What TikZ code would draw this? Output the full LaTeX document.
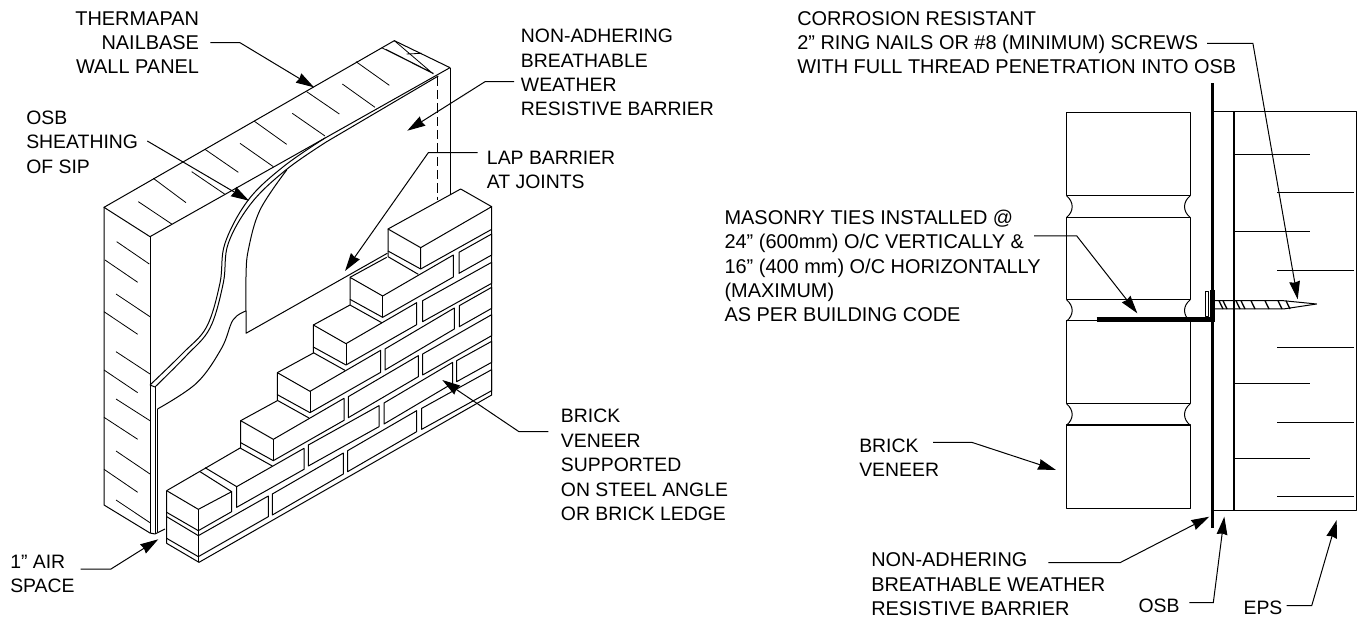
\documentclass[tikz,border=0pt]{standalone}
\usepackage{fontspec}
\setmainfont{Liberation Sans}
\usetikzlibrary{arrows.meta, calc}
\tikzstyle{arrow} = [line width=0.75pt, -{Stealth[length=13.5pt, width=8pt, inset=0.8pt]}]
\tikzstyle{callout} = [inner sep=0pt, font=\fontsize{14.55}{18.3}\selectfont]
\tikzstyle{widecallout} = [inner sep=0pt, font=\fontsize{14.95}{18.3}\selectfont]
\tikzstyle{outline} = [line width=0.75pt, line join=round]
\tikzstyle{hair} = [line width=0.6pt]
\tikzstyle{heavy} = [line width=1.5pt]
\tikzstyle{closeup} = [x=0.25pt, y=-0.25pt]
\begin{document}
\begin{tikzpicture}[x=0.75pt, y=-0.75pt]
\useasboundingbox (0,0) rectangle (1361,620);

\begin{scope}[shift={(60,10)}, closeup, outline]
    \draw (132,592) -- (1003,92) -- (1170,173) -- (270,680) -- cycle;
    \draw [hair] (965,113) -- (1118,190) (978,118) -- (1120,190) (1003,92) -- (1120,192) (1040,132) -- (1085,130);
    \foreach \xa/\ya/\xb/\yb in {280/505/378/578, 235/575/335/642, 435/418/535/487, 395/485/495/553, 582/333/680/403, 540/400/640/470, 740/245/838/312, 697/310/795/378, 888/155/988/226, 847/222/945/292}
        \draw [hair] (\xa,\ya) -- (\xb,\yb);
    \draw [dashed, dash pattern=on 7pt off 3pt] (1133,200) -- (1133,570);
    \draw (1170,173) -- (1170,555);
\end{scope}

\draw [outline] (104,207) -- (104,505) -- (150,533) -- (155,534) -- (165,529);
\draw [outline] (150,237) -- (150,533);
\draw [outline] (155,387) -- (155,534);
\draw [outline] (157.5,409) -- (157.5,532);
\foreach \xa/\ya/\xb/\yb in {116.7/241.7/149.3/264, 105/260/137.7/282.3, 116/294/150/316.7, 104/311.7/137.7/334.3, 116/351.7/150/374, 104/370/137.7/392.7, 116/399/150/420.7, 104/417.3/137.7/439.3, 116/451/150/474, 104/469.3/137.7/492.3, 116/500/150/522.7}
    \draw [hair] (\xa,\ya) -- (\xb,\yb);

\draw [outline] plot [smooth, tension=0.6] coordinates {(325,138) (283.3,166.7) (248.3,200) (225,243.3) (220,283) (206.7,326.7) (183,353) (150,385)};
\draw [outline] (438.3,76) -- (326.7,141.7) plot [smooth, tension=0.6] coordinates {(326.7,141.7) (286.7,169.3) (251.7,202.7) (228.3,243.3) (223.3,283) (210,328) (186,356) (155,387)};
\draw [outline] (150,385) -- (155,387);
\draw [outline] plot [smooth, tension=0.6] coordinates {(286.7,170) (260,210) (248.3,250) (246,276.7) (246,311)};
\draw [outline] plot [smooth, tension=0.6] coordinates {(246,311) (233,320) (221.7,348) (196.7,383) (157.5,409)};
\draw [outline] (246,311) -- (246,333.3) -- (387.3,253.3);

\begin{scope}[shift={(100,300)}, closeup, outline]
    \draw (200,572) -- (422,443);
    \draw (300,515) -- (395,575) -- (295,628) -- (200,572);
    \draw (200,572) -- (200,730) -- (297,787) -- (1175,285) -- (1175,-280);
    \draw (295,628) -- (295,787);
    \draw (395,575) -- (395,635) -- (295,692) -- (200,637);
    \draw (200,650) -- (295,707) -- (505,588) -- (505,650) -- (295,770) -- (200,715);
    \draw (315,503) -- (410,560) -- (612,445) -- (612,508) -- (410,622) -- (410,560);
    \foreach \lx/\ly in {422/362, 532/218, 640/75, 750/-68} {
        \draw (\lx,\ly) -- ({\lx+110},{\ly-60});
        \draw (\lx,\ly) -- ({\lx+98},{\ly+56}) -- ({\lx+310},{\ly-67}) -- ({\lx+310},{\ly-1}) -- ({\lx+98},{\ly+120}) -- ({\lx},{\ly+66}) -- cycle;
        \draw ({\lx+98},{\ly+56}) -- ({\lx+98},{\ly+120});
        \draw ({\lx},{\ly+66}) -- ({\lx},{\ly+83}) -- ({\lx+95},{\ly+136});
    }
    \draw (864,-213) -- (1082,-333) -- (1175,-280) -- (962,-157) -- cycle;
    \draw (962,-157) -- (962,-93) -- (864,-147) -- (864,-213);
    \draw (962,-93) -- (1175,-212);
    \draw (864,-147) -- (864,-130) -- (955,-77);
    \foreach \ax/\ay/\bx/\by in {517/645/730/522, 743/515/950/395, 965/388/1175/272, 625/498/837/380, 852/372/1058/250, 1070/245/1175/187, 745/353/955/230, 968/225/1175/107, 855/210/1063/87, 1078/80/1175/25, 968/65/1175/-50, 1077/-80/1175/-135}
        \draw (\ax,\ay) -- (\ax,{\ay-63}) -- (\bx,{\by-63}) -- (\bx,\by) -- cycle;
\end{scope}

\draw [outline] (1066.7,112.7) rectangle (1190,196);
\draw [outline] (1066.7,217.3) rectangle (1190,300);
\draw [outline] (1066.7,321) rectangle (1190,404);
\draw [outline] (1066.7,425) rectangle (1190,508.3);
\foreach \ya/\yb in {196/217.3, 300/321, 404/425} {
    \draw [outline] (1066.7,\ya) .. controls (1074,{\ya+6}) and (1074,{\yb-6}) .. (1066.7,\yb);
    \draw [outline] (1190,\ya) .. controls (1182.7,{\ya+6}) and (1182.7,{\yb-6}) .. (1190,\yb);
}
\draw [outline] (1213,112) -- (1356,112) -- (1356,510.7) -- (1213,510.7);
\draw [heavy] (1234,112) -- (1234,510.7);
\foreach \y in {154, 231.7, 383.3, 458.3}
    \draw [hair] (1234,\y) -- (1310,\y);
\foreach \y in {192.3, 270, 347.3, 422, 496.7}
    \draw [hair] (1277.3,\y) -- (1354,\y);

\draw [line width=2pt] (1212.7,83.3) -- (1212.7,528.3);
\draw [line width=3.8pt] (1096.7,319.3) -- (1214.5,319.3);
\draw [line width=3.8pt] (1212.7,290) -- (1212.7,321);
\draw [outline, fill=white] (1205,291.7) rectangle (1208.3,316.7);
\draw [outline] (1215,300.7) -- (1283.3,300.7) -- (1316.7,304) -- (1283.3,309) -- (1215,309);
\foreach \x in {1219, 1223, 1236, 1241, 1251, 1265, 1278, 1286}
    \draw [line width=1pt] (\x,300.7) -- ({\x+4},309);

\node (thermapan) [widecallout, anchor=east, align=right] at (199.3,42.7) {THERMAPAN\\NAILBASE\\WALL PANEL};
\node (osb_sheathing) [callout, anchor=west, align=left] at (26,142) {OSB\\SHEATHING\\OF SIP};
\node (barrier_top) [callout, anchor=west, align=left] at (520.7,72.6) {NON-ADHERING\\BREATHABLE\\WEATHER\\RESISTIVE BARRIER};
\node (lap_barrier) [callout, anchor=west, align=left] at (486.7,170) {LAP BARRIER\\AT JOINTS};
\node (brick_left) [callout, anchor=west, align=left] at (560.7,465) {BRICK\\VENEER\\SUPPORTED\\ON STEEL ANGLE\\OR BRICK LEDGE};
\node (air_space) [callout, anchor=west, align=left] at (10,574.2) {1” AIR\\SPACE};
\node (corrosion) [widecallout, anchor=west, align=left] at (797,42.7) {CORROSION RESISTANT\\2” RING NAILS OR \#8 (MINIMUM) SCREWS\\WITH FULL THREAD PENETRATION INTO OSB};
\node (ties) [widecallout, anchor=west, align=left] at (724.3,266) {MASONRY TIES INSTALLED @\\24” (600mm) O/C VERTICALLY \&\\16” (400 mm) O/C HORIZONTALLY\\(MAXIMUM)\\AS PER BUILDING CODE};
\node (brick_right) [callout, anchor=west, align=left] at (859,457.5) {BRICK\\VENEER};
\node (barrier_bottom) [widecallout, anchor=west, align=left] at (871,584.5) {NON-ADHERING\\BREATHABLE WEATHER\\RESISTIVE BARRIER};
\node (osb) [callout, anchor=west] at (1138.3,606) {OSB};
\node (eps) [callout, anchor=west] at (1243.3,608.3) {EPS};

\coordinate (thermapan_tip) at (314,87.3);
\coordinate (sheathing_tip) at (249,200.7);
\coordinate (barrier_top_tip) at (407.3,130.7);
\coordinate (lap_tip) at (345,271);
\coordinate (brick_left_tip) at (442.3,380);
\coordinate (air_tip) at (158.3,539.3);
\coordinate (corrosion_tip) at (1297.7,299.3);
\coordinate (ties_tip) at (1137.3,313.3);
\coordinate (brick_right_tip) at (1056,470);
\coordinate (barrier_bottom_tip) at (1209.3,516.7);
\coordinate (osb_tip) at (1224.3,516.7);
\coordinate (eps_tip) at (1336.7,520);

\draw [arrow] (thermapan.east) ++(11,0) -- ++(29.7,0) -- (thermapan_tip);
\draw [arrow] (osb_sheathing.east) ++(9,-1) -- (sheathing_tip);
\draw [arrow] (barrier_top.west) ++(-6.7,9.1) -- ++(-29,0) -- (barrier_top_tip);
\draw [arrow] (lap_barrier.west) ++(-9,-17.3) -- ++(-49.4,0) -- (lap_tip);
\draw [arrow] (brick_left.west) ++(-12.4,-33.3) -- ++(-29.3,0) -- (brick_left_tip);
\draw [arrow] (air_space.west) ++(70.7,-5.2) -- ++(30.3,0) -- (air_tip);
\draw [arrow] (corrosion.west) ++(410,0.6) -- ++(45.9,0) -- (corrosion_tip);
\draw [arrow] (ties.west) ++(309.7,-30) -- ++(42.8,0) -- (ties_tip);
\draw [arrow] (brick_right.west) ++(74,-15.2) -- ++(38.7,0) -- (brick_right_tip);
\draw [arrow] (barrier_bottom.west) ++(177.3,-21.8) -- ++(71.7,0) -- (barrier_bottom_tip);
\draw [arrow] (osb.west) ++(51,-3.3) -- ++(24,0) -- (osb_tip);
\draw [arrow] (eps.west) ++(43.4,-2.6) -- ++(25,0) -- (eps_tip);
\end{tikzpicture}
\end{document}
